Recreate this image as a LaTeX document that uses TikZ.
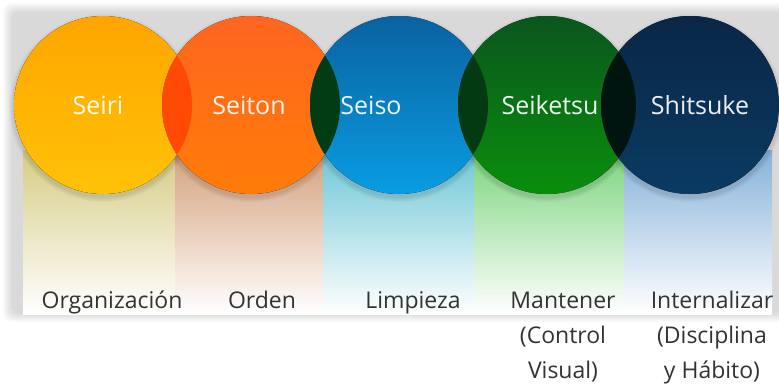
\documentclass[tikz,border=0pt]{standalone}
\usepackage{fontspec}
\setmainfont{Open Sans}

% Colours of the five circles (top, bottom), their overlaps and the bands
\definecolor{seiriTop}{HTML}{FFA500}
\definecolor{seiriBot}{HTML}{FFC207}
\definecolor{seitonTop}{HTML}{FF6520}
\definecolor{seitonBot}{HTML}{FF7C08}
\definecolor{seisoTop}{HTML}{0A62A0}
\definecolor{seisoBot}{HTML}{0A9CE2}
\definecolor{seiketsuTop}{HTML}{0A561E}
\definecolor{seiketsuBot}{HTML}{0A8E0C}
\definecolor{shitsukeTop}{HTML}{0A2646}
\definecolor{shitsukeBot}{HTML}{0A3B62}
\definecolor{overA}{HTML}{FF4A05}
\definecolor{overB}{HTML}{023C14}
\definecolor{overC}{HTML}{033A12}
\definecolor{overD}{HTML}{011510}
\definecolor{bandA}{HTML}{D6CC84}
\definecolor{bandB}{HTML}{D4A07C}
\definecolor{bandC}{HTML}{6CC6D6}
\definecolor{bandD}{HTML}{7CD47E}
\definecolor{bandE}{HTML}{86B2D8}
\definecolor{labelgray}{HTML}{333333}

\tikzset{
	circ label/.style = {text = white, text opacity = 0.92, font = \fontsize{25}{28}\selectfont, inner sep = 0pt},
	item label/.style = {text = labelgray, font = \fontsize{23}{35}\selectfont, align = center, inner sep = 0pt, anchor = base}
}

\begin{document}
\begin{tikzpicture}[x = 1pt, y = -1pt]

	% Definitions

	\def\R{89}		% Circle radius
	\def\Y{105}		% Height of circle centres
	\def\B{308}		% Baseline of the first line of the meanings

	\useasboundingbox (0, 0) rectangle (779, 384);

	% Soft shadow round the panel

	\foreach \s in {1, ..., 10}
		\fill [black, opacity = 0.014, rounded corners = 8 pt] (13 - \s, 13 - \s) rectangle (779 + \s, 312 + \s);

	% Bands, fading to white

	\foreach \a/\b/\c in {23/175/bandA, 175/323/bandB, 323/474/bandC, 474/624/bandD, 624/772/bandE}
		\fill [top color = \c, middle color = \c!78!white, bottom color = white] (\a, 150) rectangle (\b, 314);

	% Shadows under the circles

	\foreach \x in {103, 251, 399, 547, 690}
		\foreach \s in {1, ..., 5}
			\fill [black, opacity = 0.022] (\x, \Y + 3) circle (\R + \s);

	% Circles

	\foreach \x/\t/\b in {103/seiriTop/seiriBot, 251/seitonTop/seitonBot, 399/seisoTop/seisoBot, 547/seiketsuTop/seiketsuBot, 690/shitsukeTop/shitsukeBot}
		\fill [top color = \t, bottom color = \b] (\x, \Y) circle (\R);

	% Overlaps

	\foreach \p/\q/\c in {103/251/overA, 251/399/overB, 399/547/overC, 547/690/overD}
	{
		\begin{scope}
			\clip (\p, \Y) circle (\R);
			\fill [\c] (\q, \Y) circle (\R);
		\end{scope}
	}

	% Names of the five S

	\node [circ label] (seiri) at (98, \Y) {Seiri};
	\node [circ label] (seiton) at (249, \Y) {Seiton};
	\node [circ label] (seiso) at (371, \Y) {Seiso};
	\node [circ label] (seiketsu) at (550, \Y) {Seiketsu};
	\node [circ label] (shitsuke) at (700, \Y) {Shitsuke};

	% Meanings (base of a node is the base of its last line)

	\node [item label] (organizacion) at (112, \B) {Organización};
	\node [item label] (orden) at (262, \B) {Orden};
	\node [item label] (limpieza) at (413, \B) {Limpieza};
	\node [item label] (mantener) at (563, \B + 70) {Mantener\\(Control\\Visual)};
	\node [item label] (internalizar) at (712, \B + 70) {Internalizar\\(Disciplina\\y Hábito)};

\end{tikzpicture}
\end{document}
